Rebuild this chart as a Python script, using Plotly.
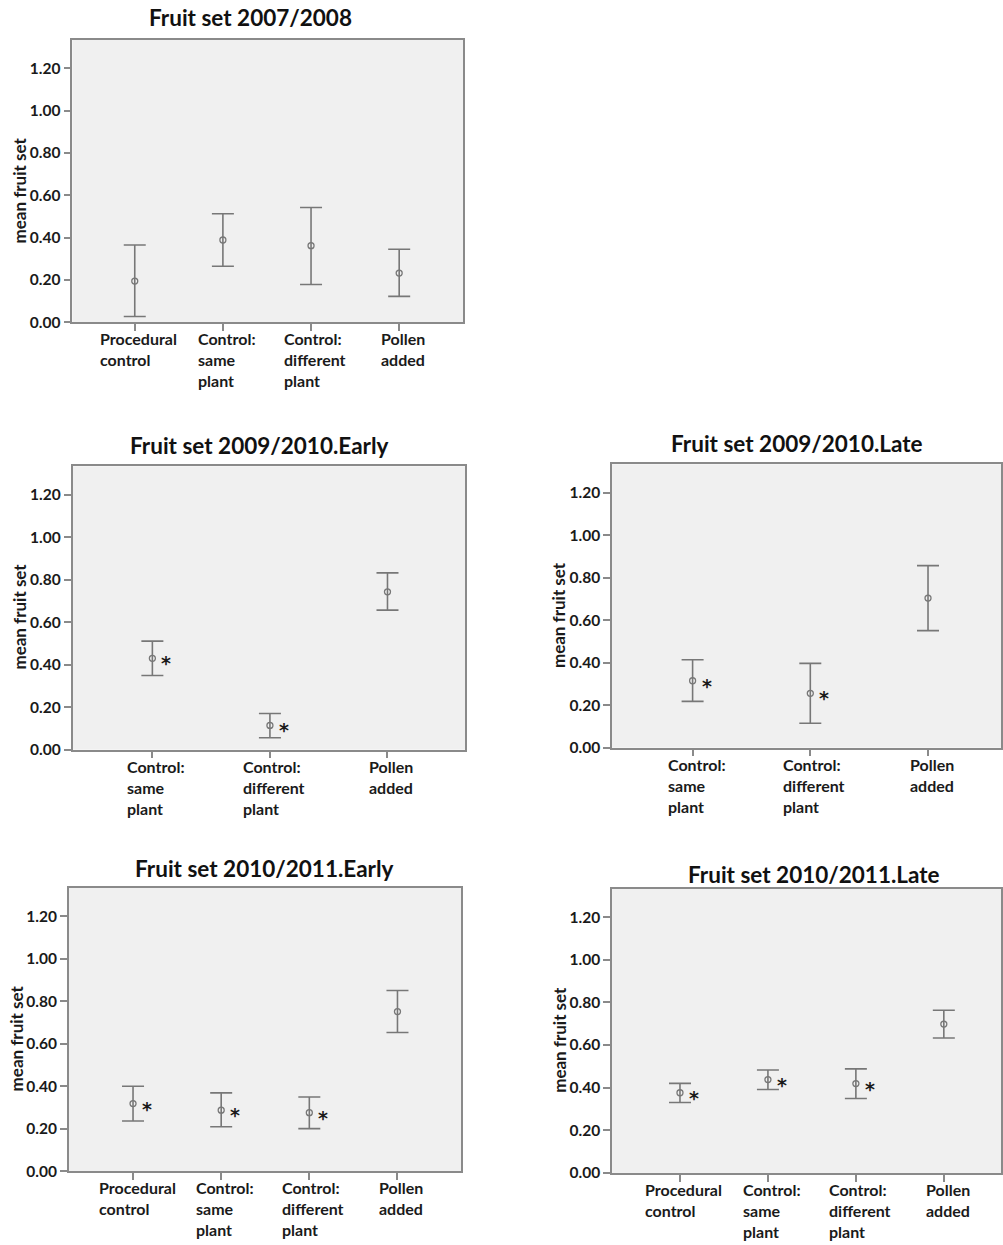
import plotly.graph_objects as go

W, H = 1003, 1245

# ---------------- data ----------------
titles = ["Fruit set 2007/2008", "Fruit set 2009/2010.Early", "Fruit set 2009/2010.Late",
          "Fruit set 2010/2011.Early", "Fruit set 2010/2011.Late"]

cats4 = ["Procedural<br>control", "Control:<br>same<br>plant", "Control:<br>different<br>plant", "Pollen<br>added"]
cats3 = ["Control:<br>same<br>plant", "Control:<br>different<br>plant", "Pollen<br>added"]

means_0708 = [0.195, 0.389, 0.362, 0.233]
upper_0708 = [0.365, 0.513, 0.542, 0.345]
lower_0708 = [0.028, 0.265, 0.179, 0.123]
sig_0708 = [False, False, False, False]

means_0910e = [0.430, 0.114, 0.743]
upper_0910e = [0.511, 0.170, 0.832]
lower_0910e = [0.349, 0.056, 0.657]
sig_0910e = [True, True, False]

means_0910l = [0.315, 0.256, 0.704]
upper_0910l = [0.414, 0.397, 0.857]
lower_0910l = [0.218, 0.115, 0.551]
sig_0910l = [True, True, False]

means_1011e = [0.319, 0.288, 0.276, 0.751]
upper_1011e = [0.400, 0.369, 0.350, 0.850]
lower_1011e = [0.237, 0.210, 0.201, 0.653]
sig_1011e = [True, True, True, False]

means_1011l = [0.376, 0.438, 0.419, 0.698]
upper_1011l = [0.420, 0.483, 0.488, 0.763]
lower_1011l = [0.330, 0.391, 0.349, 0.633]
sig_1011l = [True, True, True, False]

y_ticks = [0.0, 0.2, 0.4, 0.6, 0.8, 1.0, 1.2]
y_axis_title = "mean fruit set"

panels = [
    (titles[0], cats4, means_0708, upper_0708, lower_0708, sig_0708),
    (titles[1], cats3, means_0910e, upper_0910e, lower_0910e, sig_0910e),
    (titles[2], cats3, means_0910l, upper_0910l, lower_0910l, sig_0910l),
    (titles[3], cats4, means_1011e, upper_1011e, lower_1011e, sig_1011e),
    (titles[4], cats4, means_1011l, upper_1011l, lower_1011l, sig_1011l),
]

# ---------------- layout geometry (pixels) ----------------
geom = [
    dict(l=72.5, r=464, t=40, b=324.5, xr=[-0.708, 3.725], tc=(251, 18)),
    dict(l=72.7, r=466, t=469.3, b=754.5, xr=[-0.679, 2.66], tc=(260, 448)),
    dict(l=613.3, r=1003, t=467.3, b=752.5, xr=[-0.684, 2.62], tc=(799, 446)),
    dict(l=69, r=462.3, t=893.3, b=1179, xr=[-0.728, 3.725], tc=(265, 874)),
    dict(l=613.3, r=1003, t=894.3, b=1180.5, xr=[-0.772, 3.65], tc=(816, 880)),
]

FONT = "Lato"
GRAY = "#777777"
FRAME = "#8a8a8a"

fig = go.Figure()
annotations = []
layout = {}

for i, ((title, cats, m, up, lo, sig), g) in enumerate(zip(panels, geom)):
    k = "" if i == 0 else str(i + 1)
    xa, ya = "x" + k, "y" + k
    xs = list(range(len(cats)))
    fig.add_trace(go.Scatter(
        x=xs, y=m, mode="markers", xaxis=xa, yaxis=ya, showlegend=False,
        marker=dict(symbol="circle-open", size=6, color=GRAY, line=dict(width=1.3, color=GRAY)),
        error_y=dict(type="data", symmetric=False,
                     array=[u - v for u, v in zip(up, m)],
                     arrayminus=[v - d for v, d in zip(m, lo)],
                     color=GRAY, thickness=1.6, width=11),
    ))
    layout["xaxis" + k] = dict(
        domain=[g["l"] / W, g["r"] / W], anchor=ya, range=g["xr"],
        tickvals=xs, showticklabels=False, ticks="outside", ticklen=7, tickcolor=FRAME, tickwidth=1.5,
        showline=True, mirror=True, linecolor=FRAME, linewidth=1.5, showgrid=False, zeroline=False,
        fixedrange=True,
    )
    layout["yaxis" + k] = dict(
        domain=[1 - g["b"] / H, 1 - g["t"] / H], anchor=xa, range=[0, 1.334],
        tickvals=y_ticks, tickformat=".2f", ticks="outside", ticklen=7, tickcolor=FRAME, tickwidth=1.5,
        tickfont=dict(family=FONT, size=15.5, color="#1a1a1a", weight="bold"),
        showline=True, mirror=True, linecolor=FRAME, linewidth=1.5, showgrid=False, zeroline=False,
        fixedrange=True,
    )
    # category labels
    for x, c in zip(xs, cats):
        annotations.append(dict(
            x=x, y=0, xref=xa, yref=ya, text="<b>" + c + "</b>", showarrow=False,
            xanchor="center", yanchor="top", align="left", yshift=-5, xshift=4,
            font=dict(family=FONT, size=16, color="#1a1a1a"),
        ))
    # significance asterisks
    for x, v, s in zip(xs, m, sig):
        if s:
            annotations.append(dict(
                x=x, y=v, xref=xa, yref=ya, text="<b>*</b>", showarrow=False,
                xanchor="center", yanchor="middle", xshift=14, yshift=-5,
                font=dict(family="DejaVu Sans", size=19, color="#1a1a1a"),
            ))
    # title
    annotations.append(dict(
        x=g["tc"][0] / W, y=1 - g["tc"][1] / H, xref="paper", yref="paper",
        text="<b>" + title + "</b>", showarrow=False, xanchor="center", yanchor="middle",
        font=dict(family=FONT, size=22.5, color="#111111"),
    ))
    # y axis title
    annotations.append(dict(
        x=(g["l"] - 53) / W, y=1 - ((g["t"] + g["b"]) / 2 + 9) / H, xref="paper", yref="paper",
        text="<b>" + y_axis_title + "</b>", showarrow=False, textangle=-90,
        xanchor="center", yanchor="middle",
        font=dict(family=FONT, size=17, color="#1a1a1a"),
    ))

fig.update_layout(
    width=W, height=H, autosize=False,
    margin=dict(l=0, r=0, t=0, b=0),
    paper_bgcolor="white", plot_bgcolor="#f0f0f0",
    annotations=annotations, showlegend=False,
    **layout,
)

fig.write_html("out.html", config=dict(displayModeBar=False))
